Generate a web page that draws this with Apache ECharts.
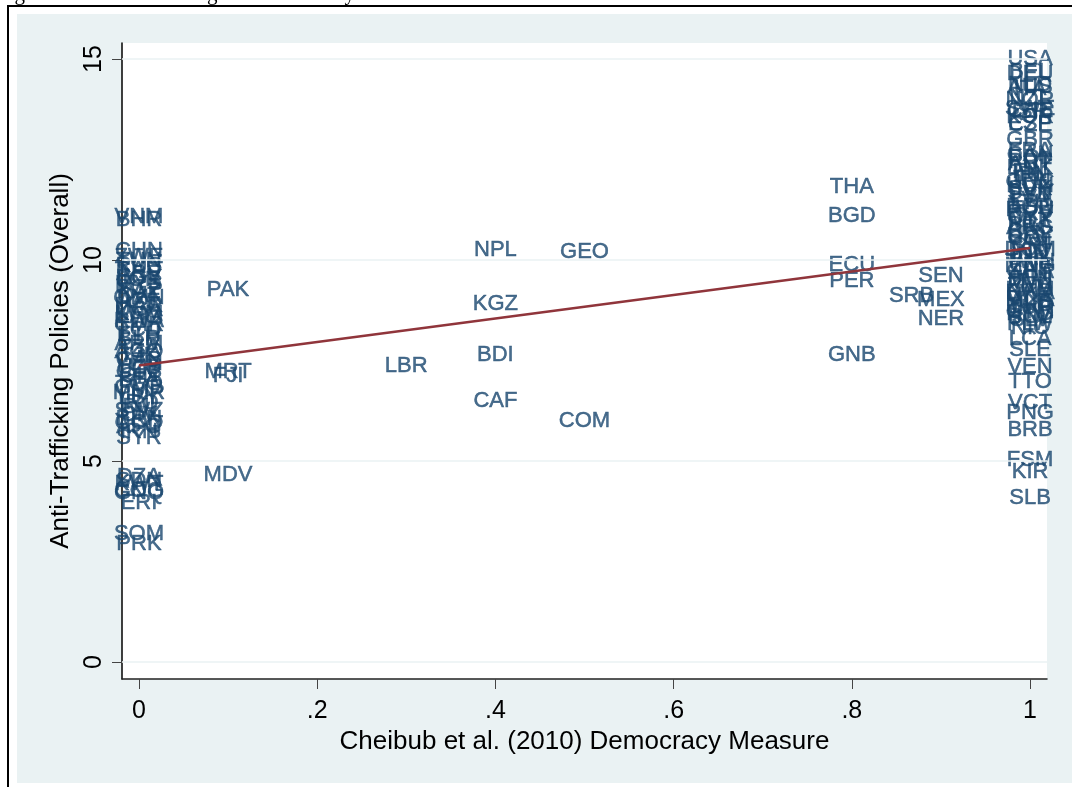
<!DOCTYPE html>
<html>
<head>
<meta charset="utf-8">
<script src="https://cdn.jsdelivr.net/npm/echarts@6/dist/echarts.min.js"></script>
<style>
html,body{margin:0;padding:0;background:#fff;}
#chart{width:1072px;height:787px;}
</style>
</head>
<body>
<div id="chart"></div>
<script>
// ---- data ----
// countries scored 0 on the democracy measure (label y positions)
const autoCodes = ['VNM','BHR','CHN','ZWE','TUN','RUS','SAU','ARE','EGY','JOR','MYS','SGP','KAZ','QAT','OMN','AZE','MAR','UGA','KHM','LAO','RWA','CMR','TCD','ETH','BLR','ARM','TZA','AGO','TJK','GAB','YEM','UZB','CUB','GIN','BFA','TGO','GMB','MMR','LBY','IRQ','DJI','SWZ','CIV','BRN','COD','AFG','IRN','SYR','DZA','SDN','KWT','COG','GNQ','ERI','SOM','PRK'];
const autoY = [11.07,11.0,10.22,10.08,9.98,9.85,9.75,9.65,9.55,9.5,9.4,9.3,9.22,9.12,9.05,8.95,8.85,8.75,8.66,8.58,8.48,8.38,8.26,8.15,8.03,7.92,7.82,7.72,7.62,7.52,7.42,7.32,7.22,7.12,7.02,6.92,6.82,6.7,6.58,6.45,6.35,6.25,6.15,6.05,5.95,5.85,5.72,5.57,4.6,4.5,4.42,4.25,4.2,3.96,3.2,2.95];
// countries scored 1
const demoCodes = ['USA','BEL','DEU','NLD','AUS','ITA','NZL','NOR','SWE','CHE','ISR','KOR','ESP','CZE','GBR','FRA','CAN','POL','PRT','AUT','DNK','FIN','IRL','JPN','GRC','HUN','SVK','SVN','EST','LVA','LTU','BGR','ROU','HRV','CYP','MLT','BRA','ARG','CHL','URY','COL','PAN','CRI','DOM','IND','IDN','PHL','TWN','MNG','ZAF','GHA','MLI','BEN','MWI','ZMB','NAM','BWA','UKR','MDA','ALB','MKD','TUR','GTM','HND','BOL','SLV','PLW','NIC','LCA','SLE','VEN','TTO','VCT','PNG','BRB','FSM','KIR','SLB'];
const demoY = [15.0,14.68,14.62,14.35,14.3,14.25,14.03,13.98,13.75,13.72,13.68,13.55,13.38,13.35,13.0,12.72,12.62,12.55,12.45,12.38,12.28,12.2,12.12,12.02,11.95,11.85,11.78,11.68,11.6,11.5,11.42,11.32,11.25,11.15,11.05,10.97,10.88,10.8,10.7,10.6,10.52,10.42,10.35,10.25,10.18,10.1,10.02,9.95,9.85,9.78,9.7,9.62,9.52,9.45,9.35,9.25,9.18,9.1,9.02,8.95,8.88,8.8,8.72,8.65,8.58,8.5,8.42,8.3,8.05,7.76,7.34,6.97,6.44,6.19,5.77,5.02,4.73,4.08];
// countries in between
const midCodes = ['PAK','MRT','FJI','MDV','LBR','NPL','KGZ','BDI','CAF','GEO','COM','THA','BGD','ECU','PER','GNB','SEN','SRB','MEX','NER'];
const midX = [0.1,0.1,0.1,0.1,0.3,0.4,0.4,0.4,0.4,0.5,0.5,0.8,0.8,0.8,0.8,0.8,0.9,0.867,0.9,0.9];
const midY = [9.25,7.22,7.12,4.65,7.36,10.25,8.9,7.64,6.49,10.2,6.0,11.82,11.1,9.88,9.48,7.64,9.6,9.1,9.0,8.53];
// fitted line end points
const fitX = [0, 1];
const fitY = [7.38, 10.3];
// ticks
const xTicks = [0, 0.2, 0.4, 0.6, 0.8, 1];
const xTickLabels = ['0', '.2', '.4', '.6', '.8', '1'];
const yTicks = [0, 5, 10, 15];
const yTickLabels = ['0', '5', '10', '15'];

// ---- build ----
const points = [];
autoCodes.forEach((c, i) => points.push({name: c, value: [0, autoY[i]]}));
midCodes.forEach((c, i) => points.push({name: c, value: [midX[i], midY[i]]}));
demoCodes.forEach((c, i) => points.push({name: c, value: [1, demoY[i]]}));

const NAVY = '#1A476F';
const BG = '#EAF2F3';
const FONT = '"Liberation Sans", Arial, sans-serif';

const chart = echarts.init(document.getElementById('chart'), null, {renderer: 'canvas'});
chart.setOption({
  animation: false,
  backgroundColor: '#ffffff',
  title: {
    text: 'Figure 2: Anti-Trafficking and Democracy',
    left: -3, top: -16, padding: 0, z: 0,
    textStyle: {fontSize: 21, fontFamily: '"Liberation Serif", "Times New Roman", serif', fontWeight: 'normal', color: '#000'}
  },
  graphic: [
    {type: 'rect', z: -20, shape: {x: 17, y: 14, width: 1070, height: 769}, style: {fill: BG}},
    {type: 'rect', z: -19, shape: {x: 8, y: 6, width: 1100, height: 800}, style: {fill: 'none', stroke: '#000', lineWidth: 2}}
  ],
  grid: {left: 122, right: 25, top: 43, bottom: 108, show: true, backgroundColor: '#ffffff', borderWidth: 0, outerBoundsMode: 'none', containLabel: false},
  xAxis: {
    type: 'value', min: -0.019, max: 1.019,
    name: 'Cheibub et al. (2010) Democracy Measure', nameLocation: 'middle', nameGap: 44,
    nameTextStyle: {fontFamily: FONT, fontSize: 26, color: '#000'},
    axisLine: {show: true, onZero: false, lineStyle: {color: '#222', width: 1.5}},
    axisTick: {show: true, length: 10, customValues: xTicks, lineStyle: {color: '#444', width: 1}},
    axisLabel: {show: true, customValues: xTicks, margin: 20, fontFamily: FONT, fontSize: 25, color: '#000',
      formatter: v => { const k = xTicks.findIndex(t => Math.abs(t - v) < 1e-6); return k >= 0 ? xTickLabels[k] : ''; }},
    splitLine: {show: false}
  },
  yAxis: {
    type: 'value', min: -0.42, max: 15.4,
    name: 'Anti-Trafficking Policies (Overall)', nameLocation: 'middle', nameGap: 45, nameRotate: 90,
    nameTextStyle: {fontFamily: FONT, fontSize: 26, color: '#000'},
    axisLine: {show: true, onZero: false, lineStyle: {color: '#000', width: 1.5}},
    axisTick: {show: true, length: 10, customValues: yTicks, lineStyle: {color: '#444', width: 1}},
    axisLabel: {show: true, customValues: yTicks, rotate: 90, margin: 15, fontFamily: FONT, fontSize: 25, color: '#000',
      formatter: v => { const k = yTicks.findIndex(t => Math.abs(t - v) < 1e-6); return k >= 0 ? yTickLabels[k] : ''; }},
    splitLine: {show: false}
  },
  series: [
    {
      type: 'line', z: 1, data: [], silent: true,
      markLine: {silent: true, symbol: 'none', label: {show: false},
        lineStyle: {color: BG, width: 1.5, type: 'solid'},
        data: yTicks.map(t => ({yAxis: t}))}
    },
    {
      type: 'scatter', z: 3, data: points, symbol: 'circle', symbolSize: 1,
      itemStyle: {color: 'rgba(0,0,0,0)'},
      label: {show: true, position: 'inside', formatter: '{b}', color: NAVY, fontFamily: FONT, fontSize: 22,
        textBorderColor: NAVY, textBorderWidth: 0.5},
      labelLayout: {hideOverlap: false},
      emphasis: {disabled: true}
    },
    {
      type: 'line', z: 5, data: fitX.map((x, i) => [x, fitY[i]]), symbol: 'none',
      lineStyle: {color: '#90353B', width: 2.5}, silent: true
    }
  ]
});
</script>
</body>
</html>
